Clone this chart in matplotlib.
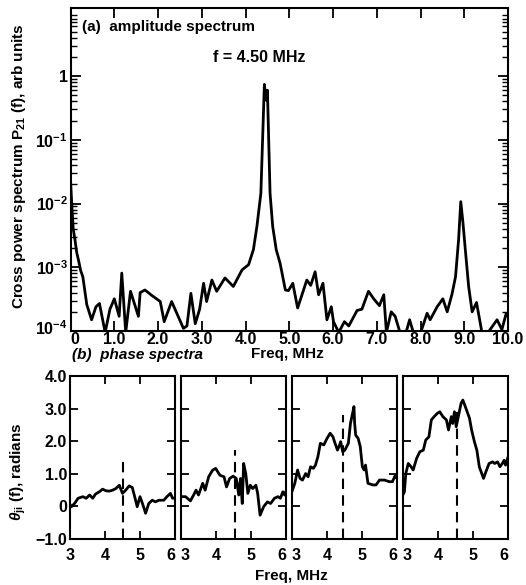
import matplotlib
matplotlib.use("Agg")
import matplotlib.pyplot as plt
import matplotlib.transforms as mtransforms
from matplotlib.ticker import FixedLocator, NullFormatter

plt.rcParams['font.family'] = ['Liberation Sans', 'DejaVu Sans']
plt.rcParams['font.weight'] = 'bold'
plt.rcParams['mathtext.fontset'] = 'custom'
plt.rcParams['mathtext.rm'] = 'Liberation Sans:bold'
plt.rcParams['mathtext.bf'] = 'Liberation Sans:bold'
plt.rcParams['mathtext.it'] = 'Liberation Sans:bold:italic'
plt.rcParams['mathtext.default'] = 'bf'

# (a) amplitude spectrum
freq_a = [0.00, 0.03, 0.06, 0.10, 0.14, 0.18, 0.23, 0.28, 0.37, 0.48, 0.58, 0.66,
          0.79, 0.90, 1.00, 1.11, 1.17, 1.26, 1.37, 1.55, 1.59, 1.70, 1.86, 2.05,
          2.14, 2.31, 2.58, 2.66, 2.75, 2.85, 2.95, 3.04, 3.11, 3.23, 3.34, 3.53,
          3.72, 3.92, 4.07, 4.18, 4.26, 4.35, 4.43, 4.47, 4.50, 4.56, 4.62, 4.70,
          4.79, 4.91, 4.98, 5.08, 5.19, 5.29, 5.40, 5.49, 5.59, 5.67, 5.77, 5.86,
          5.96, 6.01, 6.13, 6.26, 6.36, 6.55, 6.66, 6.81, 6.93, 7.06, 7.16, 7.22,
          7.33, 7.42, 7.54, 7.65, 7.75, 7.84, 8.00, 8.15, 8.22, 8.38, 8.51, 8.61,
          8.72, 8.80, 8.87, 8.92, 8.97, 9.03, 9.10, 9.18, 9.28, 9.41, 9.52, 9.75,
          9.86, 9.96, 10.0]
amp_a = [2.2e-2, 8.9e-3, 4.0e-3, 2.7e-3, 1.7e-3, 1.3e-3, 8.9e-4, 7.1e-4, 2.6e-4, 1.5e-4, 2.4e-4, 2.7e-4,
         0.95e-4, 2.2e-4, 3.2e-4, 1.7e-4, 8.1e-4, 0.95e-4, 4.2e-4, 1.7e-4, 4.0e-4, 4.4e-4, 3.6e-4, 2.9e-4,
         1.4e-4, 2.9e-4, 1.1e-4, 1.2e-4, 3.9e-4, 1.3e-4, 2.2e-4, 5.6e-4, 2.9e-4, 6.3e-4, 4.2e-4, 6.8e-4,
         5.0e-4, 9.1e-4, 1.1e-3, 1.9e-3, 4.4e-3, 1.45e-2, 0.74, 0.42, 0.60, 1.45e-2, 4.4e-3, 1.9e-3,
         1.15e-3, 4.4e-4, 4.3e-4, 5.6e-4, 2.3e-4, 3.7e-4, 6.3e-4, 5.2e-4, 8.5e-4, 3.7e-4, 5.6e-4, 1.5e-4,
         2.4e-4, 1.4e-4, 0.95e-4, 1.4e-4, 1.2e-4, 2.1e-4, 2.2e-4, 4.2e-4, 3.2e-4, 2.5e-4, 3.7e-4, 0.95e-4,
         2.0e-4, 1.7e-4, 0.9e-4, 0.85e-4, 1.5e-4, 0.93e-4, 0.93e-4, 1.9e-4, 1.5e-4, 2.4e-4, 3.2e-4, 2.0e-4,
         3.8e-4, 7.1e-4, 2.7e-3, 1.07e-2, 5.0e-3, 1.7e-3, 5.0e-4, 2.0e-4, 2.8e-4, 0.9e-4, 0.9e-4, 1.5e-4,
         1.05e-4, 1.9e-4, 1.7e-4]

# (b) phase spectra, four panels
freq_b1 = [3.00, 3.04, 3.13, 3.23, 3.37, 3.46, 3.56, 3.65, 3.73, 3.84, 3.93, 4.03, 4.12, 4.22, 4.31,
           4.41, 4.50, 4.59, 4.69, 4.78, 4.86, 4.92, 5.00, 5.07, 5.16, 5.25, 5.35, 5.44, 5.54, 5.68,
           5.77, 5.87, 5.93, 6.00]
phase_b1 = [0.05, -0.02, 0.08, 0.24, 0.29, 0.24, 0.34, 0.24, 0.37, 0.44, 0.52, 0.47, 0.46, 0.49, 0.54,
            0.64, 0.39, 0.49, 0.62, 0.57, 0.24, -0.02, 0.29, 0.08, -0.22, 0.08, 0.18, 0.13, 0.18, 0.18,
            0.29, 0.39, 0.24, 0.25]

freq_b2 = [3.00, 3.13, 3.27, 3.36, 3.43, 3.50, 3.62, 3.69, 3.79, 3.90, 3.99, 4.11, 4.23, 4.30, 4.39,
           4.49, 4.58, 4.65, 4.70, 4.75, 4.79, 4.85, 4.91, 4.98, 5.05, 5.14, 5.19, 5.26, 5.36, 5.47,
           5.56, 5.67, 5.77, 5.84, 5.91, 5.96, 6.00]
phase_b2 = [0.29, 0.29, 0.16, 0.34, 0.49, 0.34, 0.70, 0.49, 0.90, 1.10, 1.16, 0.95, 0.90, 0.59, 0.85,
            0.92, 0.85, 0.34, 0.85, 0.08, 1.31, 1.00, 0.39, 0.64, 0.54, 0.64, 0.39, -0.28, -0.02, 0.13,
            0.08, 0.24, 0.29, 0.24, 0.44, 0.34, 0.45]

freq_b3 = [3.00, 3.08, 3.16, 3.23, 3.30, 3.39, 3.46, 3.53, 3.61, 3.67, 3.74, 3.81, 3.91, 4.00, 4.09,
           4.17, 4.23, 4.30, 4.36, 4.39, 4.45, 4.51, 4.61, 4.67, 4.73, 4.77, 4.79, 4.82, 4.89, 4.95,
           5.01, 5.06, 5.10, 5.17, 5.31, 5.40, 5.50, 5.64, 5.78, 5.87, 5.94, 6.00]
phase_b3 = [0.45, 0.70, 1.11, 0.85, 0.80, 1.00, 0.90, 1.21, 1.16, 1.26, 1.52, 1.93, 1.88, 2.08, 2.24,
            2.13, 1.93, 1.72, 1.88, 1.98, 1.67, 1.72, 1.93, 2.54, 2.85, 3.06, 2.54, 2.18, 2.08, 1.83,
            1.21, 1.11, 1.26, 0.70, 0.65, 0.65, 0.80, 0.80, 0.75, 0.75, 0.92, 0.85]

freq_b4 = [3.00, 3.04, 3.08, 3.15, 3.23, 3.29, 3.39, 3.48, 3.58, 3.65, 3.74, 3.81, 3.89, 3.98, 4.05,
           4.14, 4.24, 4.30, 4.38, 4.42, 4.47, 4.52, 4.58, 4.66, 4.71, 4.80, 4.90, 4.96, 5.04, 5.11,
           5.18, 5.25, 5.30, 5.37, 5.46, 5.56, 5.62, 5.70, 5.77, 5.84, 5.89, 5.93, 6.00]
phase_b4 = [0.35, 0.44, 1.00, 1.31, 1.21, 1.11, 1.47, 1.67, 1.72, 2.03, 2.13, 2.65, 2.75, 2.85, 2.90,
            2.75, 2.65, 2.34, 2.75, 2.54, 2.90, 2.44, 2.75, 3.16, 3.26, 3.00, 2.70, 2.34, 1.98, 1.72,
            1.21, 1.00, 0.85, 1.06, 1.31, 1.36, 1.31, 1.36, 1.21, 1.31, 1.41, 1.26, 1.50]

# heights of the dashed markers at f = 4.5 MHz
marker_f = [4.5, 4.53, 4.45, 4.55]
marker_top = [1.43, 1.72, 2.8, 3.05]

fig = plt.figure(figsize=(5.26, 5.85), dpi=100)

# ---- top panel
ax = fig.add_axes([0.1342, 0.4342, 0.8316, 0.5521])
ax.plot(freq_a, amp_a, color='black', lw=2.0)
ax.set_yscale('log')
ax.set_xlim(0, 10)
ax.set_ylim(1e-4, 11.7)
ax.set_xticks(range(11))
ax.set_xticklabels(['0', '1.0', '2.0', '3.0', '4.0', '5.0', '6.0', '7.0', '8.0', '9.0', '10.0'])
ax.yaxis.set_major_locator(FixedLocator([1e-4, 1e-3, 1e-2, 1e-1, 1]))
ax.set_yticklabels(['10$^{-4}$', '10$^{-3}$', '10$^{-2}$', '10$^{-1}$', '1'])
minors = [m * 10.0 ** e for e in range(-4, 1) for m in range(2, 10)]
ax.yaxis.set_minor_locator(FixedLocator(minors))
ax.yaxis.set_minor_formatter(NullFormatter())
ax.tick_params(axis='both', which='major', direction='in', top=True, right=True,
               length=7, width=1.3, labelsize=11.5, pad=2)
ax.tick_params(axis='x', which='major', pad=1)
ax.tick_params(axis='y', which='minor', direction='in', left=True, right=True,
               length=4, width=1.0)
ax.tick_params(axis='x', which='minor', bottom=False, top=False)
for s in ax.spines.values():
    s.set_linewidth(1.5)
ax.set_ylabel('Cross power spectrum P$_{21}$ (f), arb units', fontsize=11, fontweight='bold')
ax.yaxis.set_label_coords(-0.097, 0.51)
ax.text(0.026, 0.941, '(a)  amplitude spectrum', transform=ax.transAxes, fontsize=11,
        fontweight='bold', va='center')
ax.text(0.326, 0.848, 'f = 4.50 MHz', transform=ax.transAxes, fontsize=11.5,
        fontweight='bold', va='center')

# nudge the "0" and "10^-4" labels apart a little, they sit in the corner
zero_lbl = ax.xaxis.get_major_ticks()[0].label1
zero_lbl.set_transform(zero_lbl.get_transform() +
                       mtransforms.ScaledTranslation(3 / 72, 0, fig.dpi_scale_trans))
low_lbl = ax.yaxis.get_major_ticks()[0].label1
low_lbl.set_transform(low_lbl.get_transform() +
                      mtransforms.ScaledTranslation(0, 3 / 72, fig.dpi_scale_trans))

fig.text(0.546, 1 - 354 / 585, 'Freq, MHz', ha='center', va='center', fontsize=11, fontweight='bold')
fig.text(72 / 526, 1 - 355 / 585, '(b)  phase spectra', ha='left', va='center', fontsize=11,
         fontweight='bold', style='italic')

# ---- bottom panels
lefts = [70, 181, 292, 403]
series = [(freq_b1, phase_b1), (freq_b2, phase_b2), (freq_b3, phase_b3), (freq_b4, phase_b4)]
for i, (fx, py) in enumerate(series):
    b = fig.add_axes([lefts[i] / 526, 0.0793, 105 / 526, 0.278])
    b.plot(fx, py, color='black', lw=2.0)
    b.plot([marker_f[i], marker_f[i]], [-1.0, marker_top[i]], color='black', lw=1.5,
           dashes=(5, 3))
    b.set_xlim(3, 6)
    b.set_ylim(-1, 4)
    b.set_xticks([3, 4, 5, 6])
    b.set_xticklabels(['3', '4', '5', '6'])
    b.set_yticks([-1, 0, 1, 2, 3, 4])
    b.tick_params(direction='in', top=True, right=True, length=6, width=1.3,
                  labelsize=11.5, pad=7)
    b.tick_params(axis='y', pad=2)
    for s in b.spines.values():
        s.set_linewidth(1.5)
    xl = b.get_xticklabels()
    xl[-1].set_horizontalalignment('right')
    if i > 0:
        xl[0].set_horizontalalignment('left')
    if i == 0:
        b.set_yticklabels(['\u22121.0', '0', '1.0', '2.0', '3.0', '4.0'])
        b.set_ylabel('$\\mathit{\\theta}_{ji}$ (f), radians', fontsize=11, fontweight='bold')
        b.yaxis.set_label_coords(-0.40, 0.41)
    else:
        b.set_yticklabels([])

fig.text(291 / 526, 1 - 576 / 585, 'Freq, MHz', ha='center', va='center', fontsize=11,
         fontweight='bold')

fig.savefig('out.png', dpi=100)
